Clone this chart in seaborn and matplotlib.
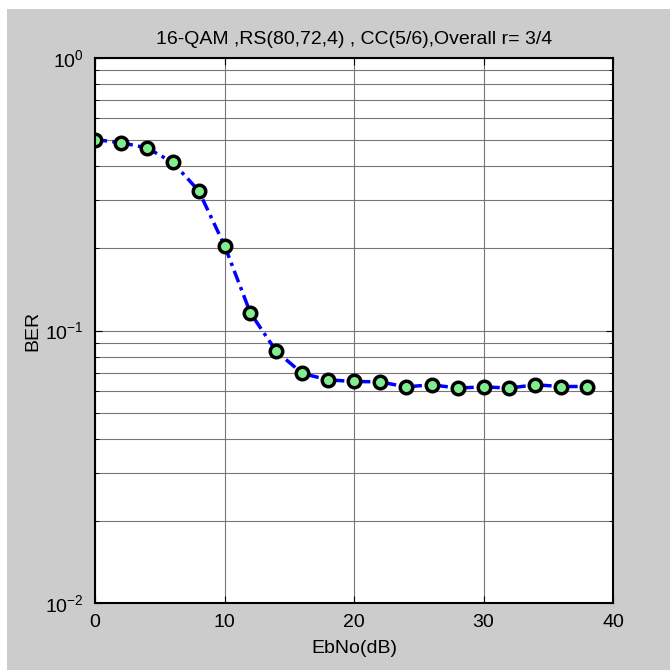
import numpy as np
import pandas as pd
import matplotlib
matplotlib.use("Agg")
import matplotlib.pyplot as plt
from matplotlib.patches import Rectangle
from matplotlib.ticker import LogLocator, NullFormatter
import seaborn as sns

sns.set_style("ticks")
plt.rcParams['font.family'] = ['Liberation Sans', 'DejaVu Sans']
plt.rcParams['mathtext.fontset'] = 'custom'
plt.rcParams['mathtext.rm'] = 'Liberation Sans'
plt.rcParams['mathtext.it'] = 'Liberation Sans'
plt.rcParams['text.color'] = 'black'
plt.rcParams['axes.labelcolor'] = 'black'
plt.rcParams['xtick.labelcolor'] = 'black'
plt.rcParams['ytick.labelcolor'] = 'black'

# values
ebno = [0, 2, 4, 6, 8, 10, 12, 14, 16, 18, 20, 22, 24, 26, 28, 30, 32, 34, 36, 38]
ber = [0.502, 0.489, 0.468, 0.414, 0.326, 0.205, 0.116, 0.0839, 0.0696, 0.0659,
       0.0650, 0.0648, 0.0621, 0.0632, 0.0615, 0.0621, 0.0615, 0.0632, 0.0623, 0.0623]
title = "16-QAM ,RS(80,72,4) , CC(5/6),Overall r= 3/4"

df = pd.DataFrame({'EbNo': ebno, 'BER': ber})

fig = plt.figure(figsize=(6.7, 6.7), dpi=100)
fig.patch.set_facecolor('white')
fig.add_artist(Rectangle((7 / 670, 0), 1, 661 / 670, transform=fig.transFigure,
                         facecolor='#cccccc', edgecolor='none', zorder=-10))
ax = fig.add_axes([95 / 670, 67 / 670, 518 / 670, 545 / 670])
ax.set_facecolor('white')

sns.lineplot(data=df, x='EbNo', y='BER', ax=ax, color='blue', linewidth=2.5,
             linestyle=(0, (3.5, 1.5, 1, 1.5)), marker='o', markersize=9,
             markerfacecolor='#80ee90', markeredgecolor='black', markeredgewidth=2.5)

ax.set_yscale('log')
ax.set_ylim(1e-2, 1e0)
ax.set_xlim(0, 40)
ax.set_xticks([0, 10, 20, 30, 40])
ax.yaxis.set_major_locator(LogLocator(base=10, numticks=5))
ax.yaxis.set_minor_locator(LogLocator(base=10, subs=np.arange(2, 10), numticks=20))
ax.yaxis.set_minor_formatter(NullFormatter())

ax.grid(True, which='major', axis='both', color='#777777', linewidth=0.8)
ax.grid(True, which='minor', axis='y', color='#777777', linewidth=0.8)
ax.tick_params(which='both', direction='in', top=True, right=True, labelsize=14,
               color='black', labelcolor='black')
ax.tick_params(which='major', length=5)
ax.tick_params(axis='x', which='major', pad=8)
ax.tick_params(axis='y', which='major', pad=8)
ax.tick_params(which='minor', length=3)
for s in ax.spines.values():
    s.set_color('black')
    s.set_linewidth(1.5)

ax.set_title(title, fontsize=14, pad=10, color='black')
ax.set_xlabel('EbNo(dB)', fontsize=14, color='black')
ax.set_ylabel('BER', fontsize=14, color='black')
ax.xaxis.set_label_coords(0.5, -0.068)
ax.yaxis.set_label_coords(-0.104, 0.5)

plt.savefig('out.png', dpi=100)
